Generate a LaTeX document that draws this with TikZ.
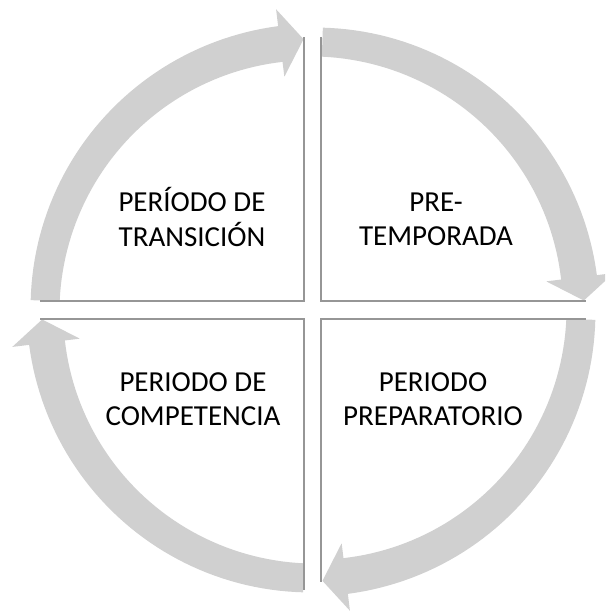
\documentclass[tikz,border=0pt]{standalone}
\usepackage{fontspec}
\setmainfont{Carlito}
\definecolor{bandgray}{RGB}{208,208,208}
\definecolor{linegray}{RGB}{150,150,150}
\begin{document}
\begin{tikzpicture}[x=1pt,y=-1pt,
  band/.style={fill=bandgray},
  quadline/.style={draw=linegray, line width=2.6pt},
  lbl/.style={font=\fontsize{29}{34}\selectfont, align=center, text=black, inner sep=0pt}]
\useasboundingbox (0,0) rectangle (605,612);
\clip (0,0) rectangle (605,612);
\def\cx{313}\def\cy{310}
\foreach \q in {0,90,180,270}{
  \pgfmathsetmacro\aa{\q+2}
  \pgfmathsetmacro\ab{\q+83}
  \pgfmathsetmacro\ac{\q+88}
  \fill[band] plot[domain=\aa:\ab, samples=50, variable=\t]
     ({\cx+(268+14.5+3.5*(\t-\aa)/81)*cos(\t)}, {\cy+(268+14.5+3.5*(\t-\aa)/81)*sin(\t)})
   -- ({\cx+303*cos(\ab)},{\cy+303*sin(\ab)})
   -- ({\cx+271*cos(\ac)},{\cy+271*sin(\ac)})
   -- ({\cx+235*cos(\ab)},{\cy+235*sin(\ab)})
   -- plot[domain=\ab:\aa, samples=50, variable=\t]
     ({\cx+(268-14.5-3.5*(\t-\aa)/81)*cos(\t)}, {\cy+(268-14.5-3.5*(\t-\aa)/81)*sin(\t)})
   -- cycle;
}
\draw[quadline] (40,301) -- (304,301) -- (304,37);
\draw[quadline] (321,37) -- (321,301) -- (586,301);
\draw[quadline] (586,319) -- (321,319) -- (321,582);
\draw[quadline] (40,319) -- (304,319) -- (304,590);
\node[lbl] (tl) at (192,222) {\strut PERÍODO DE\\TRANSICIÓN\strut};
\node[lbl] (tr) at (436,222) {\strut PRE-\\TEMPORADA\strut};
\node[lbl] (bl) at (193,402) {\strut PERIODO DE\\COMPETENCIA\strut};
\node[lbl] (br) at (433,402) {\strut PERIODO\\PREPARATORIO\strut};
\end{tikzpicture}
\end{document}
